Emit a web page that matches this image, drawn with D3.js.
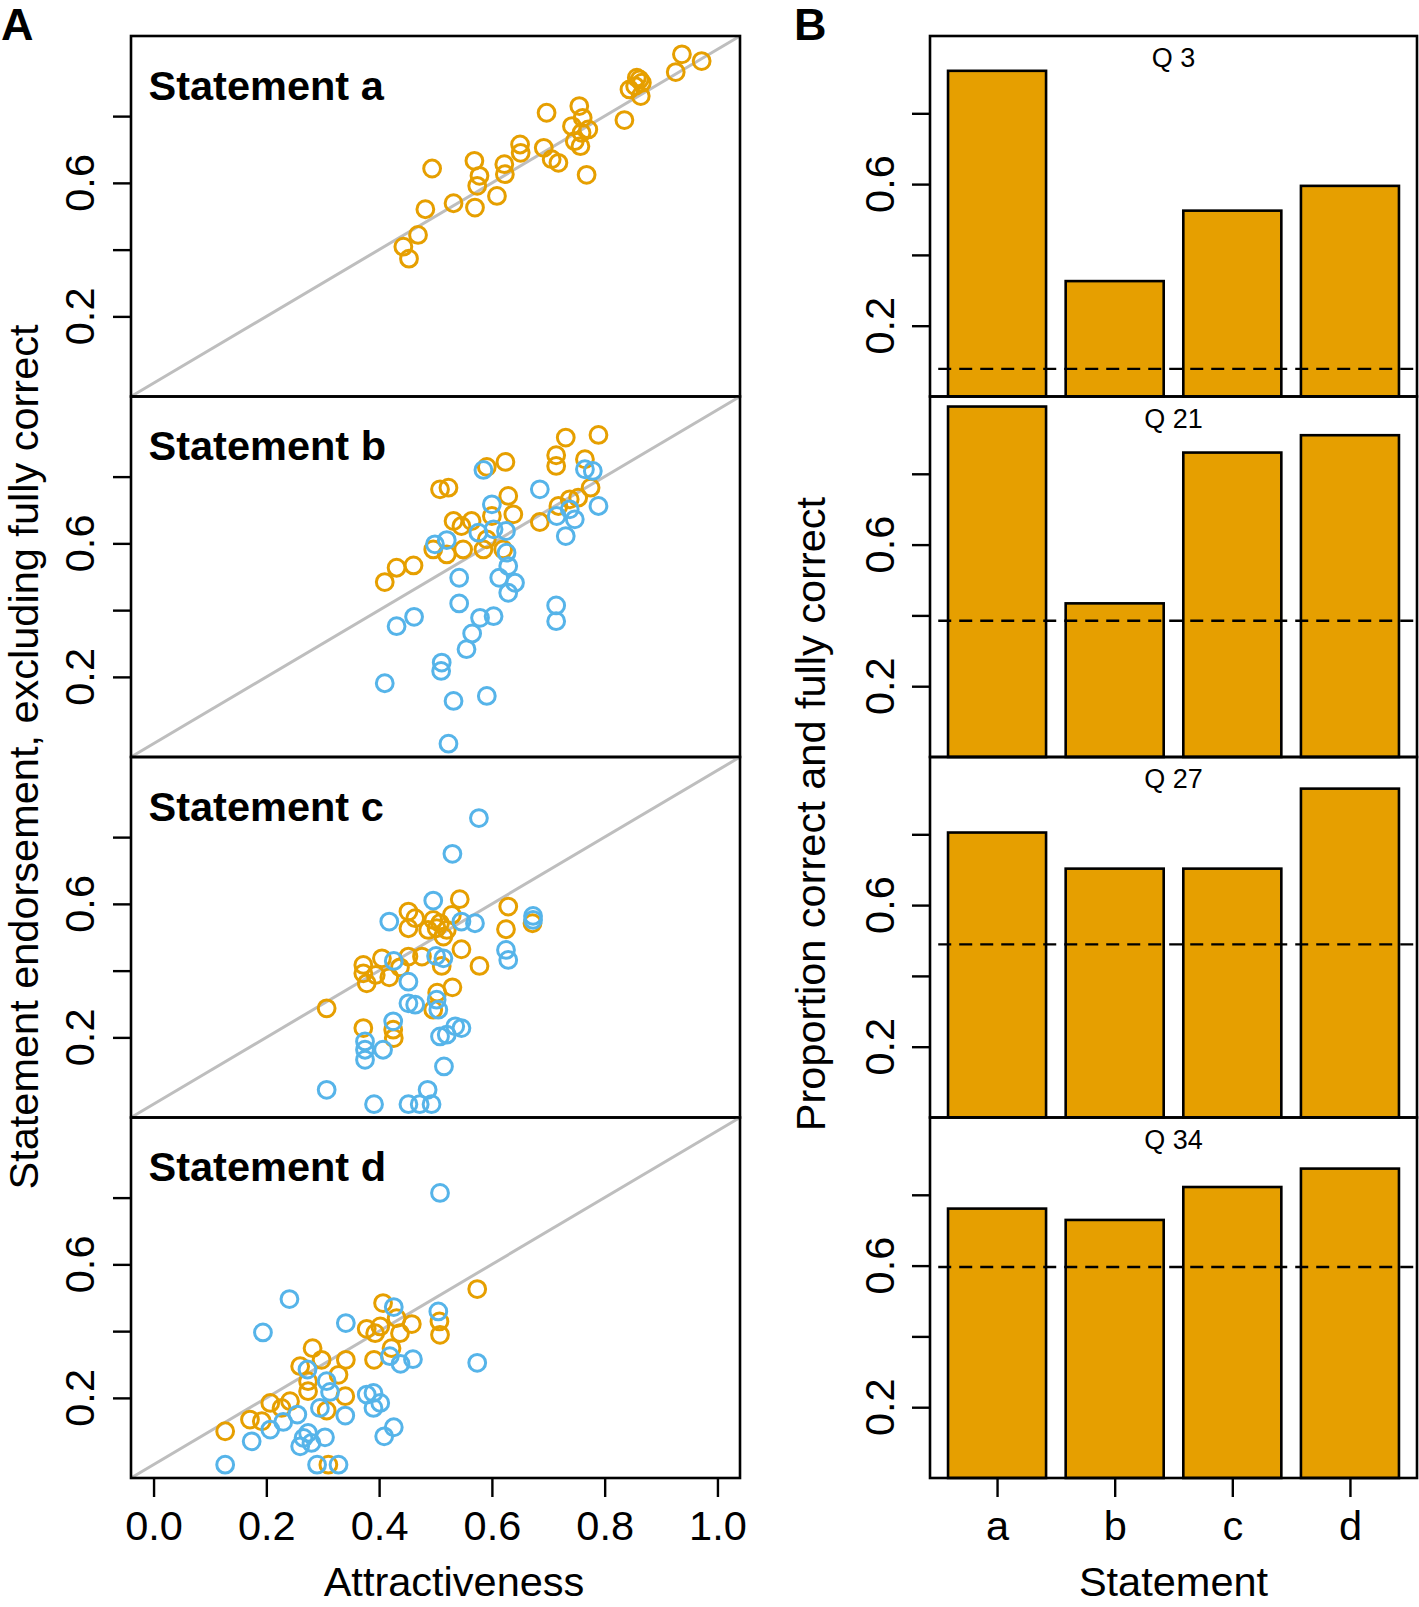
<!DOCTYPE html>
<html>
<head>
<meta charset="utf-8">
<script src="https://cdn.jsdelivr.net/npm/d3@7"></script>
<style>
  html, body { margin: 0; padding: 0; background: #fff; }
  svg { display: block; font-family: "Liberation Sans", Arial, Helvetica, sans-serif; }
</style>
</head>
<body>
<div id="chart"></div>
<script>
// ---- data -----------------------------------------------------------------
const statements = ["a", "b", "c", "d"];
const xTicks = [0, 0.2, 0.4, 0.6, 0.8, 1.0];
const yTicks = [0.2, 0.4, 0.6, 0.8];
const yTickLabels = [0.2, 0.6];

// panel A: [attractiveness, endorsement]
const aOrange = [[0.937,0.985],[0.972,0.965],[0.926,0.932],[0.857,0.915],[0.862,0.910],[0.866,0.900],
  [0.854,0.890],[0.844,0.880],[0.864,0.860],[0.755,0.830],[0.697,0.810],[0.761,0.795],[0.742,0.770],
  [0.771,0.760],[0.759,0.750],[0.835,0.788],[0.747,0.725],[0.757,0.710],[0.650,0.715],[0.651,0.690],
  [0.692,0.705],[0.706,0.671],[0.718,0.660],[0.569,0.666],[0.622,0.656],[0.623,0.626],[0.494,0.643],
  [0.578,0.621],[0.574,0.591],[0.768,0.624],[0.609,0.561],[0.532,0.539],[0.570,0.526],[0.482,0.521],
  [0.469,0.444],[0.443,0.409],[0.453,0.373]];
const aBlue = [];

const bOrange = [[0.731,0.917],[0.789,0.925],[0.714,0.864],[0.714,0.832],[0.765,0.852],[0.775,0.767],
  [0.624,0.844],[0.591,0.829],[0.508,0.762],[0.523,0.767],[0.629,0.742],[0.638,0.687],[0.532,0.667],
  [0.564,0.667],[0.546,0.652],[0.685,0.664],[0.718,0.712],[0.738,0.732],[0.753,0.737],[0.600,0.682],
  [0.585,0.582],[0.620,0.582],[0.496,0.582],[0.520,0.567],[0.549,0.582],[0.431,0.527],[0.461,0.534],
  [0.410,0.484],[0.591,0.612]];
const bBlue = [[0.585,0.820],[0.765,0.822],[0.779,0.817],[0.685,0.762],[0.600,0.717],[0.789,0.712],
  [0.738,0.702],[0.715,0.682],[0.747,0.672],[0.731,0.622],[0.576,0.632],[0.603,0.642],[0.625,0.637],
  [0.499,0.597],[0.520,0.610],[0.626,0.572],[0.629,0.532],[0.613,0.497],[0.641,0.482],[0.629,0.452],
  [0.542,0.497],[0.542,0.420],[0.714,0.414],[0.714,0.367],[0.431,0.352],[0.462,0.380],[0.579,0.377],
  [0.603,0.382],[0.565,0.330],[0.555,0.283],[0.511,0.243],[0.510,0.218],[0.410,0.181],[0.532,0.128],
  [0.591,0.143],[0.523,0.000]];

const cOrange = [[0.543,0.614],[0.452,0.577],[0.464,0.557],[0.452,0.527],[0.496,0.552],[0.508,0.542],
  [0.502,0.527],[0.487,0.522],[0.520,0.522],[0.529,0.567],[0.514,0.502],[0.629,0.592],[0.625,0.524],
  [0.672,0.542],[0.546,0.464],[0.578,0.414],[0.511,0.414],[0.476,0.442],[0.452,0.442],[0.405,0.437],
  [0.372,0.417],[0.372,0.392],[0.378,0.362],[0.394,0.387],[0.418,0.380],[0.437,0.410],[0.530,0.350],
  [0.503,0.334],[0.496,0.283],[0.307,0.287],[0.372,0.228],[0.425,0.223],[0.426,0.198]];
const cBlue = [[0.577,0.857],[0.530,0.750],[0.496,0.610],[0.418,0.547],[0.546,0.547],[0.570,0.542],
  [0.673,0.564],[0.673,0.552],[0.625,0.462],[0.629,0.432],[0.501,0.444],[0.514,0.437],[0.426,0.429],
  [0.452,0.367],[0.452,0.302],[0.464,0.298],[0.502,0.313],[0.505,0.283],[0.425,0.248],[0.535,0.233],
  [0.546,0.228],[0.508,0.203],[0.520,0.208],[0.375,0.188],[0.375,0.163],[0.407,0.163],[0.375,0.133],
  [0.515,0.113],[0.307,0.043],[0.391,0.000],[0.452,0.000],[0.472,0.000],[0.493,0.000],[0.486,0.043]];

const dOrange = [[0.574,0.526],[0.407,0.484],[0.378,0.407],[0.402,0.414],[0.393,0.394],[0.431,0.439],
  [0.458,0.421],[0.437,0.394],[0.507,0.429],[0.508,0.389],[0.422,0.349],[0.391,0.314],[0.282,0.349],
  [0.260,0.295],[0.298,0.314],[0.341,0.314],[0.328,0.269],[0.274,0.250],[0.274,0.220],[0.340,0.205],
  [0.207,0.185],[0.242,0.190],[0.227,0.170],[0.307,0.162],[0.171,0.135],[0.192,0.130],[0.127,0.100],
  [0.310,0.000]];
const dBlue = [[0.508,0.814],[0.241,0.496],[0.194,0.396],[0.341,0.424],[0.426,0.472],[0.505,0.459],
  [0.574,0.305],[0.419,0.325],[0.438,0.302],[0.460,0.316],[0.273,0.285],[0.307,0.250],[0.313,0.218],
  [0.378,0.210],[0.390,0.215],[0.402,0.185],[0.390,0.170],[0.295,0.170],[0.340,0.147],[0.255,0.150],
  [0.230,0.128],[0.207,0.105],[0.174,0.070],[0.266,0.080],[0.274,0.095],[0.260,0.055],[0.280,0.065],
  [0.304,0.082],[0.426,0.112],[0.409,0.085],[0.127,0.000],[0.290,0.000],[0.328,0.000]];

const scatterOrange = [aOrange, bOrange, cOrange, dOrange];
const scatterBlue = [aBlue, bBlue, cBlue, dBlue];

// panel B: proportion correct and fully correct, per question
const questions = ["Q 3", "Q 21", "Q 27", "Q 34"];
const propQ3  = [0.920, 0.326, 0.525, 0.595];
const propQ21 = [0.990, 0.434, 0.860, 0.909];
const propQ27 = [0.805, 0.703, 0.703, 0.929];
const propQ34 = [0.761, 0.729, 0.822, 0.874];
const barProps = [propQ3, propQ21, propQ27, propQ34];
const chance = [0.078, 0.385, 0.489, 0.596];

// ---- layout ----------------------------------------------------------------
const W = 1419, H = 1607;
const ORANGE = "#E69F00", BLUE = "#56B4E9";
const FS = 41.5;
const top0 = 36, panelH = 360.5;
const A = { l: 131, r: 740 }, B = { l: 930, r: 1417 };

const svg = d3.select("#chart").append("svg").attr("width", W).attr("height", H);
svg.append("rect").attr("width", W).attr("height", H).attr("fill", "#fff");

const xA = d3.scaleLinear().domain([-0.04, 1.04]).range([A.l, A.r]);
const xB = d3.scaleLinear().domain([0.016, 4.984]).range([B.l, B.r]);

function yAxisRotated(g, y, x0, off) {
  // R-style left axis: short ticks, labels turned 90° and only some of them shown
  g.append("g").attr("transform", `translate(${x0},0)`)
    .call(d3.axisLeft(y).tickValues(yTicks).tickSize(18).tickFormat(""))
    .call((s) => { s.select(".domain").remove(); s.selectAll("line").attr("stroke", "#000").attr("stroke-width", 2.4); });
  yTickLabels.forEach((v) => {
    g.append("text").attr("transform", `translate(${x0 - off},${y(v)}) rotate(-90)`)
      .attr("text-anchor", "middle").style("font-size", FS + "px").text(v.toFixed(1));
  });
}

// ---- panel A: scatter -------------------------------------------------------
statements.forEach((s, i) => {
  const t = top0 + i * panelH, b = t + panelH;
  const y = d3.scaleLinear().domain([-0.04, 1.04]).range([b, t]);
  const g = svg.append("g");

  g.append("line").attr("x1", xA(-0.04)).attr("y1", y(-0.04)).attr("x2", xA(1.04)).attr("y2", y(1.04))
    .attr("stroke", "#bebebe").attr("stroke-width", 3);

  const drawPts = (pts, col) => g.selectAll(null).data(pts).join("circle")
    .attr("cx", (d) => xA(d[0])).attr("cy", (d) => y(d[1])).attr("r", 8.4)
    .attr("fill", "none").attr("stroke", col).attr("stroke-width", 3);
  drawPts(scatterOrange[i], ORANGE);
  drawPts(scatterBlue[i], BLUE);

  g.append("rect").attr("x", A.l).attr("y", t).attr("width", A.r - A.l).attr("height", panelH)
    .attr("fill", "none").attr("stroke", "#000").attr("stroke-width", 2.6);

  g.append("text").attr("x", A.l + 17.5).attr("y", t + 63.5).attr("font-weight", "bold")
    .style("font-size", FS + "px").text("Statement " + s);

  yAxisRotated(g, y, A.l, 37);
});

// x axis of A
const axA = svg.append("g").attr("transform", `translate(0,${top0 + 4 * panelH + 1})`)
  .call(d3.axisBottom(xA).tickValues(xTicks).tickSize(18).tickFormat(d3.format(".1f")));
axA.select(".domain").remove();
axA.selectAll("line").attr("stroke", "#000").attr("stroke-width", 2.4);
axA.selectAll("text").attr("y", 61).attr("dy", 0).attr("fill", "#000").style("font-size", FS + "px")
  .style("font-family", "inherit");

svg.append("text").attr("x", 454).attr("y", 1596).attr("text-anchor", "middle")
  .style("font-size", FS + "px").text("Attractiveness");
svg.append("text").attr("transform", `translate(38,757) rotate(-90)`).attr("text-anchor", "middle")
  .style("font-size", FS + "px").text("Statement endorsement, excluding fully correct");

// ---- panel B: bars ----------------------------------------------------------
questions.forEach((q, i) => {
  const t = top0 + i * panelH, b = t + panelH;
  const y = d3.scaleLinear().domain([0, panelH / 354]).range([b, t]);
  const g = svg.append("g");

  g.selectAll("rect.bar").data(barProps[i]).join("rect").attr("class", "bar")
    .attr("x", (d, k) => xB(0.2 + k * 1.2)).attr("width", xB(1.2) - xB(0.2))
    .attr("y", (d) => y(d)).attr("height", (d) => y(0) - y(d))
    .attr("fill", ORANGE).attr("stroke", "#000").attr("stroke-width", 2.6);

  g.append("line").attr("x1", xB(0.1)).attr("x2", xB(4.984)).attr("y1", y(chance[i])).attr("y2", y(chance[i]))
    .attr("stroke", "#000").attr("stroke-width", 2.4).attr("stroke-dasharray", "13 8");

  g.append("rect").attr("x", B.l).attr("y", t).attr("width", B.r - B.l).attr("height", panelH)
    .attr("fill", "none").attr("stroke", "#000").attr("stroke-width", 2.6);

  g.append("text").attr("x", (B.l + B.r) / 2).attr("y", t + 31).attr("text-anchor", "middle")
    .style("font-size", "27px").text(q);

  yAxisRotated(g, y, B.l, 36);
});

const axB = svg.append("g").attr("transform", `translate(0,${top0 + 4 * panelH + 1})`)
  .call(d3.axisBottom(xB).tickValues(statements.map((s, k) => 0.7 + k * 1.2)).tickSize(18)
    .tickFormat((d, k) => statements[k]));
axB.select(".domain").remove();
axB.selectAll("line").attr("stroke", "#000").attr("stroke-width", 2.4);
axB.selectAll("text").attr("y", 61).attr("dy", 0).attr("fill", "#000").style("font-size", FS + "px")
  .style("font-family", "inherit");

svg.append("text").attr("x", (B.l + B.r) / 2).attr("y", 1596).attr("text-anchor", "middle")
  .style("font-size", FS + "px").text("Statement");
svg.append("text").attr("transform", `translate(825,814) rotate(-90)`).attr("text-anchor", "middle")
  .style("font-size", FS + "px").text("Proportion correct and fully correct");

// panel letters
svg.append("text").attr("x", 1).attr("y", 40).attr("font-weight", "bold").style("font-size", "45px").text("A");
svg.append("text").attr("x", 794).attr("y", 40).attr("font-weight", "bold").style("font-size", "45px").text("B");
</script>
</body>
</html>
